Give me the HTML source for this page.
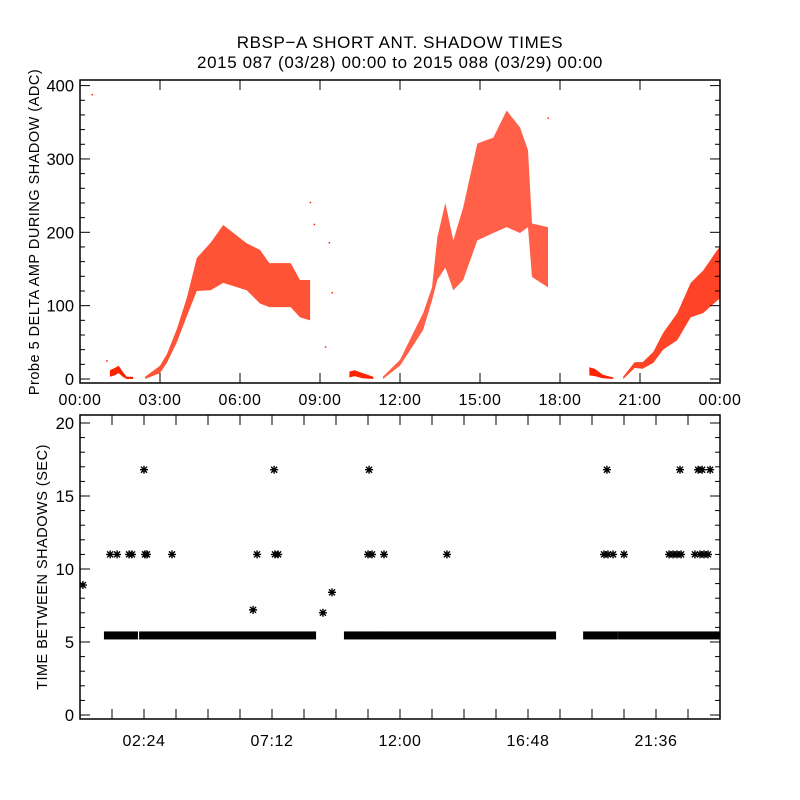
<!DOCTYPE html>
<html><head><meta charset="utf-8"><style>
body{margin:0;background:#fff}
svg{display:block;font-family:"Liberation Sans",sans-serif}
</style></head><body>
<svg id="c" width="800" height="800" viewBox="0 0 800 800">
<defs>
<clipPath id="clipTop"><rect x="80" y="80" width="640" height="303"/></clipPath>
<clipPath id="clipBot"><rect x="80" y="415" width="640" height="304"/></clipPath>
</defs>
<rect width="800" height="800" fill="#fff"/>
<text x="400" y="48" text-anchor="middle" font-size="17" letter-spacing="0.6">RBSP−A SHORT ANT. SHADOW TIMES</text>
<text x="400" y="68" text-anchor="middle" font-size="17" letter-spacing="0.6">2015 087 (03/28) 00:00 to 2015 088 (03/29) 00:00</text>
<text transform="translate(39,232) rotate(-90)" text-anchor="middle" font-size="14.5" letter-spacing="0.5">Probe 5 DELTA AMP DURING SHADOW (ADC)</text>
<text transform="translate(47,567) rotate(-90)" text-anchor="middle" font-size="14.5" letter-spacing="0.5">TIME BETWEEN SHADOWS (SEC)</text>
<g id="topData" clip-path="url(#clipTop)"></g>
<g id="topPanel"></g>
<g id="botData" clip-path="url(#clipBot)"></g>
<g id="botPanel"></g>
</svg>
<script>
const band1Hours=[1.12,1.3,1.45,1.6,1.75,1.99];
const band1Lo=[3,5,8,3,0,0];
const band1Hi=[12,15,18,10,3,3];
const band2Hours=[2.44,3.0,3.26,3.63,4.0,4.38,4.9,5.37,6.25,6.75,7.1,7.9,8.25,8.63];
const band2Lo=[0,8,22,50,85,120,121,131,121,103,98,98,84,80];
const band2Hi=[3,18,34,68,110,165,186,210,185,176,158,158,135,135];
const band3Hours=[10.1,10.3,10.6,11.0];
const band3Lo=[2,4,1,0];
const band3Hi=[10,12,8,3];
const band4Hours=[11.36,12.0,12.5,12.87,13.2,13.4,13.7,14.0,14.37,14.9,15.5,16.0,16.5,16.8,16.95,17.55];
const band4Lo=[0,18,46,67,107,135,152,121,135,189,199,207,199,207,139,125];
const band4Hi=[3,26,63,90,125,193,240,189,234,321,329,366,343,312,212,207];
const band5Hours=[19.1,19.3,19.6,20.0];
const band5Lo=[5,4,1,0];
const band5Hi=[16,14,6,2];
const band6Hours=[20.37,20.8,21.1,21.5,21.87,22.4,22.9,23.37,23.9,24.0];
const band6Lo=[0,15,14,22,40,53,84,90,107,110];
const band6Hi=[3,23,23,37,63,90,131,148,176,180];
const strayHours=[0.45,8.63,8.78,9.34,9.45,17.55,9.2,1.0];
const strayValues=[388,241,211,186,118,356,44,25];
const runStart=[1.01,2.33,10.01,11.33,18.98,20.29];
const runEnd=[2.06,8.74,11.14,17.74,20.06,24.0];
const runValue=5.45;
const ptHours=[2.40,7.28,10.84,19.76,22.5,23.18,23.33,23.63,
1.13,1.39,1.84,1.95,2.44,2.51,3.45,6.64,7.31,7.43,10.8,10.95,11.4,13.76,19.65,19.8,19.99,20.4,22.09,22.24,22.39,22.54,23.06,23.25,23.4,23.55,
0.11,6.49,9.11,9.45];
const ptValues=[16.8,16.8,16.8,16.8,16.8,16.8,16.8,16.8,
11,11,11,11,11,11,11,11,11,11,11,11,11,11,11,11,11,11,11,11,11,11,11,11,11,11,
8.9,7.2,7.0,8.4];
const topTickLabels=["00:00","03:00","06:00","09:00","12:00","15:00","18:00","21:00","00:00"];
const topYTicks=[0,100,200,300,400];
const botXLabels=["02:24","07:12","12:00","16:48","21:36"];
const botYTicks=[0,5,10,15,20];

const NS="http://www.w3.org/2000/svg";
const X=h=>80+h*640/24;
const YT=v=>379-v*0.7335;
const YB=v=>715-v*14.6;
function mk(tag,attrs,parent){const e=document.createElementNS(NS,tag);for(const k in attrs)e.setAttribute(k,attrs[k]);parent.appendChild(e);return e;}
const topD=document.getElementById('topData'),topG=document.getElementById('topPanel');
const botD=document.getElementById('botData'),botG=document.getElementById('botPanel');

const bands=[[band1Hours,band1Lo,band1Hi,1],[band2Hours,band2Lo,band2Hi,0.78],[band3Hours,band3Lo,band3Hi,1],[band4Hours,band4Lo,band4Hi,0.72],[band5Hours,band5Lo,band5Hi,1],[band6Hours,band6Lo,band6Hi,0.85]];
bands.forEach((b,i)=>{
  const [hs,lo,hi,op]=b;
  let pts=hs.map((h,j)=>X(h)+','+YT(hi[j]));
  for(let j=hs.length-1;j>=0;j--)pts.push(X(hs[j])+','+YT(lo[j]));
  const p=mk('polygon',{points:pts.join(' '),fill:'#ff2200','fill-opacity':op},topD);
  
  
});
strayHours.forEach((h,i)=>{
  const r=mk('rect',{x:X(h)-0.5,y:YT(strayValues[i])-0.5,width:1.5,height:1.5,fill:'#ff2200'},topD);
  
  
});
const f1=mk('rect',{x:80,y:80,width:640,height:303,fill:'none',stroke:'#000','stroke-width':1.5},topG);


for(let v=0;v<=400;v+=20){
  const L=(v%100===0)?10:5,y=YT(v);
  mk('line',{x1:80,x2:80+L,y1:y,y2:y,stroke:'#000'},topG);
  mk('line',{x1:720,x2:720-L,y1:y,y2:y,stroke:'#000'},topG);
}
topYTicks.forEach(v=>{
  const t=mk('text',{x:74,y:YT(v)+6,'text-anchor':'end','font-size':16.5},topG);
  t.textContent=v;
  
  
});
topTickLabels.forEach((s,i)=>{
  const x=X(i*3);
  mk('line',{x1:x,x2:x,y1:383,y2:373,stroke:'#000'},topG);
  mk('line',{x1:x,x2:x,y1:80,y2:90,stroke:'#000'},topG);
  const t=mk('text',{x:x,y:405,'text-anchor':'middle','font-size':16,'letter-spacing':0.6},topG);
  t.textContent=s;
  
  
});

function star(x,y,g){
  const d=`M${x-4},${y}h8M${x},${y-4}v8M${x-3},${y-3}l6,6M${x-3},${y+3}l6,-6`;
  return mk('path',{d:d,stroke:'#000','stroke-width':1.4,fill:'none'},g);
}
runStart.forEach((s,i)=>{
  const r=mk('rect',{x:X(s)-3,y:YB(runValue)-4,width:X(runEnd[i])-X(s)+6,height:8,fill:'#000'},botD);
  
  
});
ptHours.forEach((h,i)=>{
  const p=star(X(h),YB(ptValues[i]),botD);
  
  
});
const f2=mk('rect',{x:80,y:415,width:640,height:304,fill:'none',stroke:'#000','stroke-width':1.5},botG);


for(let v=0;v<=20;v+=1){
  const L=(v%5===0)?10:5,y=YB(v);
  mk('line',{x1:80,x2:80+L,y1:y,y2:y,stroke:'#000'},botG);
  mk('line',{x1:720,x2:720-L,y1:y,y2:y,stroke:'#000'},botG);
}
botYTicks.forEach(v=>{
  const t=mk('text',{x:74,y:YB(v)+6,'text-anchor':'end','font-size':16.5},botG);
  t.textContent=v;
  
  
});
for(let k=1;k<20;k++){
  const x=X(k*1.2);
  mk('line',{x1:x,x2:x,y1:719,y2:709,stroke:'#000'},botG);
  mk('line',{x1:x,x2:x,y1:415,y2:425,stroke:'#000'},botG);
}
botXLabels.forEach((s,i)=>{
  const t=mk('text',{x:X(2.4+i*4.8),y:746,'text-anchor':'middle','font-size':16,'letter-spacing':0.6},botG);
  t.textContent=s;
  
  
});
</script>
</body></html>
